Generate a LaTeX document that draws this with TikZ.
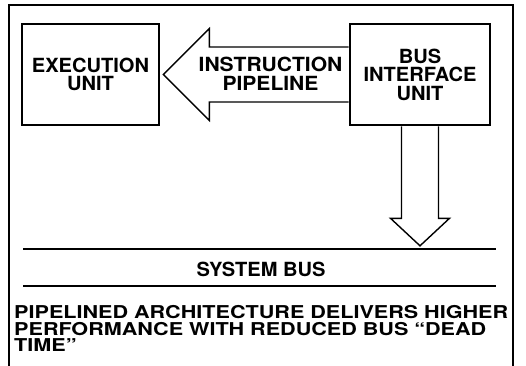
\documentclass[tikz,border=0pt]{standalone}
\usepackage{fontspec}
\setmainfont{TeX Gyre Heros}
\newfontfamily\unitfont[FakeStretch=1.03]{TeX Gyre Heros}
\newfontfamily\pipefont[FakeStretch=1.08]{TeX Gyre Heros}
\newfontfamily\notefont[FakeStretch=1.22,Ligatures=TeX]{TeX Gyre Heros}
\usetikzlibrary{calc,positioning}
\newcommand{\newUnit}[4]{\node[unit,#3](#1) at #4 {#2};}

\begin{document}
\begin{tikzpicture}[
    % One unit is one pixel of the sheet, y grows downwards
    x=1pt,y=-1pt,
    % Boxes of the processor
    unit/.style={draw,line width=2.6pt,minimum height=101pt,inner sep=0pt,
        text width=130pt,align=center,
        font=\unitfont\bfseries\fontsize{19.5}{18.5}\selectfont},
    % Outline of the wide arrows
    fatarrow/.style={draw,line width=1.4pt,miter limit=20},
    % Bus and frame strokes
    busline/.style={line width=1.5pt},
    frameline/.style={line width=1.6pt}
    ]

    \useasboundingbox (0,0) rectangle (526,365);

    % Frame, open at the bottom
    \draw[frameline] (9,366) |- (513,5) -- (513,366);

    \newUnit{exec}{EXECUTION\\UNIT}{minimum width=137pt}{(90.5,74.5)}
    \newUnit{biu}{BUS\\INTERFACE\\UNIT}{minimum width=140pt}{(420,74.5)}

    % Instruction pipeline, from the bus interface to the execution unit
    \draw[fatarrow] ($(biu.west)+(0,-27.5)$) -- ($(exec.east)+(49,-27.5)$)
        -- ($(exec.east)+(49,-46)$) -- ($(exec.east)+(3,0)$)
        -- ($(exec.east)+(49,46)$) -- ($(exec.east)+(49,27.5)$)
        -- ($(biu.west)+(0,27.5)$);
    \node[font=\pipefont\bfseries\fontsize{19.5}{18.5}\selectfont,align=center,
        text width=150pt,inner sep=0pt] (pipe) at (270.5,74) {INSTRUCTION\\PIPELINE};

    % Down to the system bus
    \draw[fatarrow] ($(biu.south)+(-18.5,0)$) -- ++(0,92) -- ++(-11,0)
        -- ($(biu.south)+(0,119.5)$) -- ($(biu.south)+(29.5,92)$)
        -- ++(-11,0) -- ($(biu.south)+(18.5,0)$);

    % System bus
    \coordinate (busAw) at (23,249);
    \coordinate (busAe) at (496,249);
    \coordinate (busBw) at (23,286);
    \coordinate (busBe) at (496,286);
    \draw[busline] (busAw) -- (busAe);
    \draw[busline] (busBw) -- (busBe);
    \node[font=\unitfont\bfseries\fontsize{19.5}{18}\selectfont,inner sep=0pt]
        (sysbus) at (261,269) {SYSTEM BUS};

    \node[anchor=north west,align=left,text width=500pt,inner sep=0pt,
        font=\notefont\bfseries\fontsize{17.7}{16.5}\selectfont] (note) at (14,305.3)
        {PIPELINED ARCHITECTURE DELIVERS HIGHER\\
         PERFORMANCE WITH REDUCED BUS ``DEAD\\
         TIME''};
\end{tikzpicture}
\end{document}
